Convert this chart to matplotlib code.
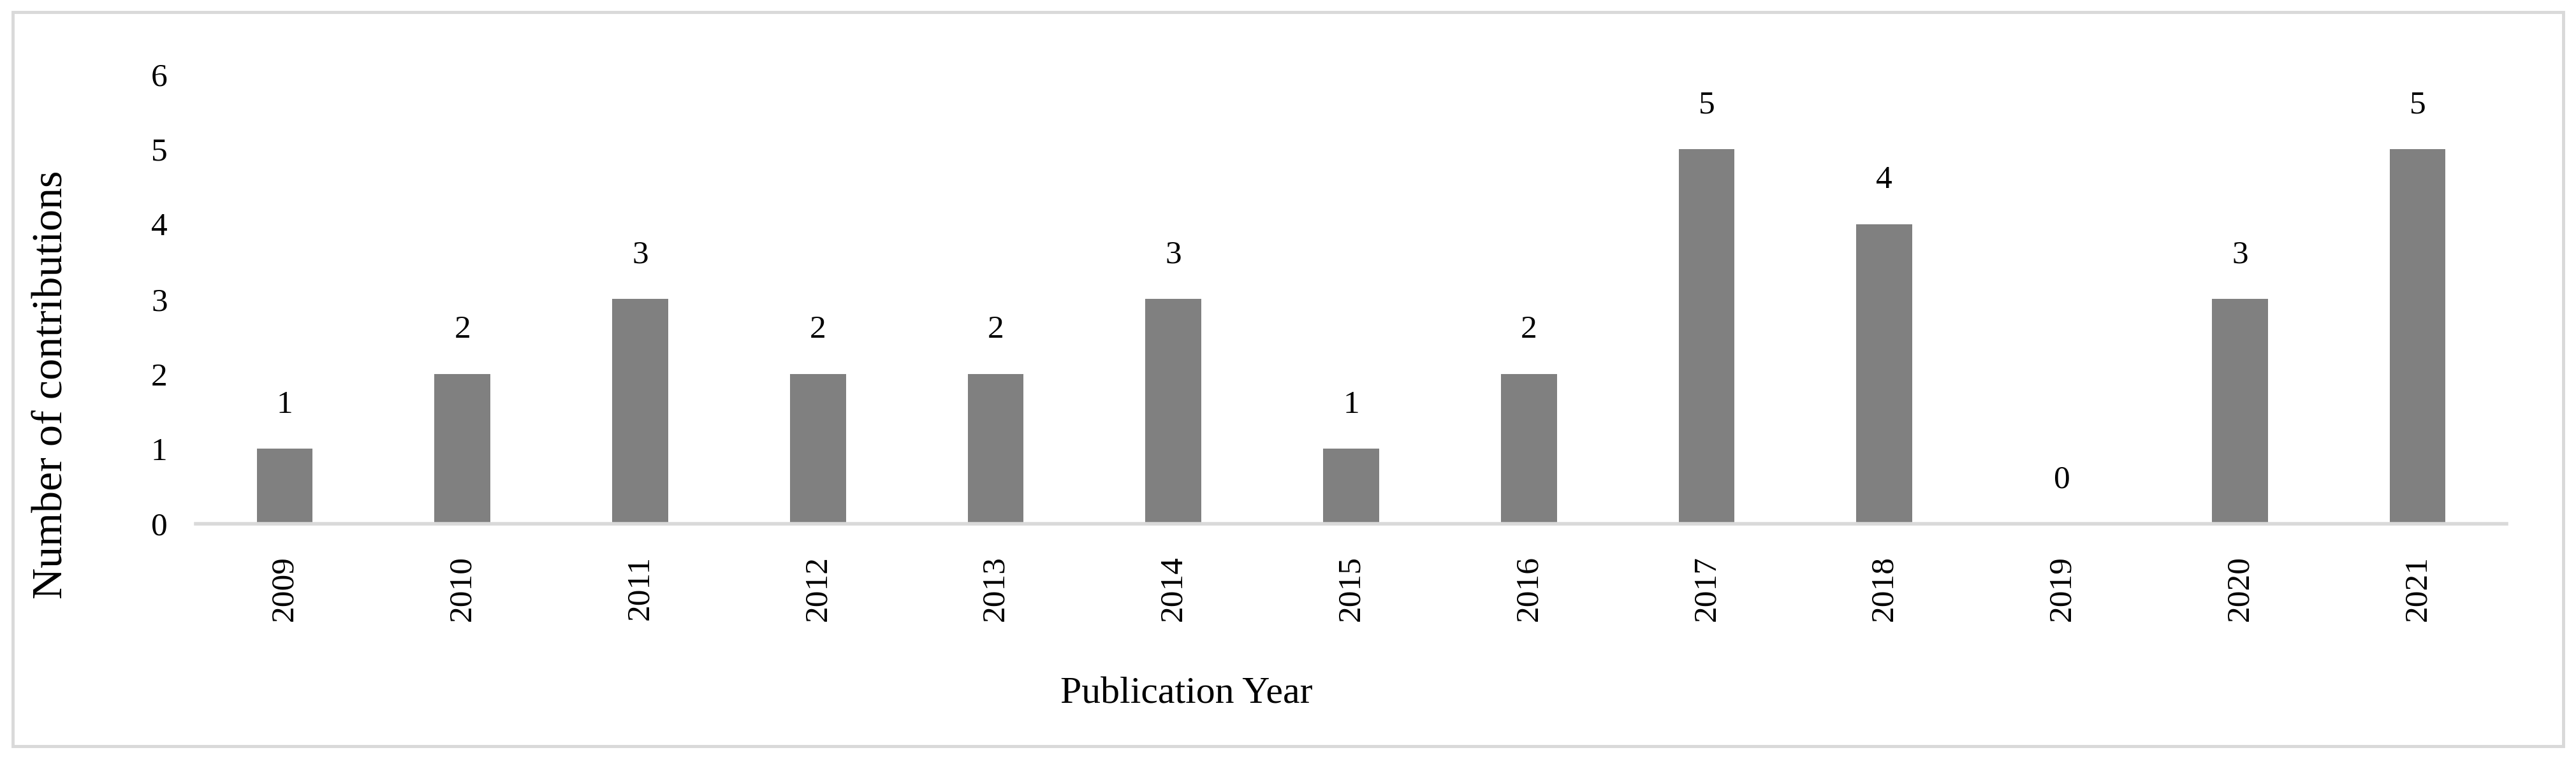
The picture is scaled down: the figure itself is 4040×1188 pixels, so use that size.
import matplotlib
matplotlib.use("Agg")
import matplotlib.pyplot as plt
from matplotlib.patches import Rectangle

years = ["2009", "2010", "2011", "2012", "2013", "2014", "2015",
         "2016", "2017", "2018", "2019", "2020", "2021"]
contributions = [1, 2, 3, 2, 2, 3, 1, 2, 5, 4, 0, 3, 5]
y_ticks = [0, 1, 2, 3, 4, 5, 6]

plt.rcParams["font.family"] = ["Liberation Serif", "DejaVu Serif"]

fig = plt.figure(figsize=(40.4, 11.88), dpi=100)
ax = fig.add_axes([0.076, 0.308, 0.897, 0.594])

x = range(len(years))
bars = ax.bar(x, contributions, width=0.315, color="#808080", zorder=2)
for rect, val in zip(bars, contributions):
    ax.annotate(str(val), (rect.get_x() + rect.get_width() / 2, val),
                xytext=(0, 33), textcoords="offset points",
                ha="center", va="bottom", fontsize=37)

ax.set_xlim(-0.5, len(years) - 0.5)
ax.set_ylim(0, 6)
ax.set_yticks(y_ticks)
ax.set_xticks(list(x))
ax.set_xticklabels(years, rotation=90, fontsize=37)
ax.tick_params(axis="y", length=0, pad=32, labelsize=37)
ax.tick_params(axis="x", length=0, pad=36)

for side in ["top", "right", "left"]:
    ax.spines[side].set_visible(False)
ax.spines["bottom"].set_color("#d9d9d9")
ax.spines["bottom"].set_linewidth(4)

ax.set_ylabel("Number of contributions", fontsize=49)
ax.yaxis.set_label_coords(-0.054, 0.31)
fig.text(0.4605, 0.0825, "Publication Year", ha="center", va="center", fontsize=43)

# outer frame like the exported chart area
fig.patches.append(Rectangle((0.005, 0.014), 0.99, 0.97, transform=fig.transFigure,
                             fill=False, edgecolor="#d9d9d9", linewidth=3.5))

fig.savefig("out.png", dpi=100)
